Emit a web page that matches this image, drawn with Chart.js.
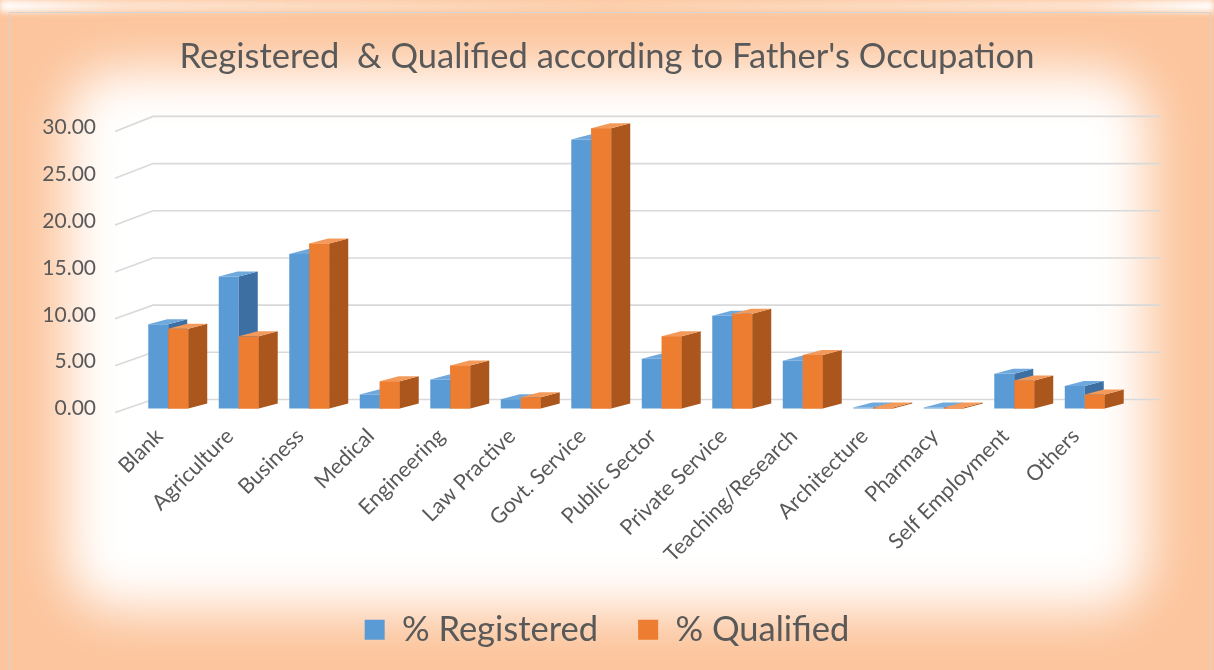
<!DOCTYPE html>
<html><head><meta charset="utf-8">
<script src="https://cdn.jsdelivr.net/npm/chart.js@4/dist/chart.umd.min.js"></script>
<style>
html,body{margin:0;padding:0;background:#fff;}
#wrap{position:relative;width:1214px;height:670px;overflow:hidden;background:#fcc59d;}
#topstrip{position:absolute;left:0;top:0;width:1214px;height:12px;background:linear-gradient(90deg,#fff 0%,#fde3cf 10%,#fcd0ad 50%,#fde3cf 90%,#fff 100%);filter:blur(3px);}
#glow{position:absolute;left:66px;top:70px;width:1082px;height:540px;background:#fff;border-radius:50px;filter:blur(26px);}
#frame{position:absolute;left:9px;top:12px;width:1202px;height:670px;border:1px solid #d4d4d4;box-sizing:border-box;}
canvas{position:absolute;left:0;top:0;}
</style></head>
<body><div id="wrap"><div id="topstrip"></div><div id="glow"></div><div id="frame"></div>
<canvas id="c" width="1214" height="670"></canvas></div>
<script>
const categories = ["Blank","Agriculture","Business","Medical","Engineering","Law Practive","Govt. Service","Public Sector","Private Service","Teaching/Research","Architecture","Pharmacy","Self Employment","Others"];
const registered = [9.0, 14.1, 16.5, 1.5, 3.1, 1.0, 28.7, 5.3, 9.9, 5.1, 0.1, 0.1, 3.7, 2.4];
const qualified  = [8.5, 7.7, 17.6, 2.9, 4.6, 1.2, 29.9, 7.7, 10.1, 5.7, 0.1, 0.1, 3.0, 1.5];
const yTicks = [0, 5, 10, 15, 20, 25, 30];

const FONT = "Lato";
const TXT = "#595959";
const DX = 19, DY = 5;

const backGrid = {
  id: 'backGrid',
  beforeDatasetsDraw(chart) {
    const ctx = chart.ctx, y = chart.scales.y, a = chart.chartArea;
    ctx.save();
    ctx.strokeStyle = '#d9d9d9';
    ctx.lineWidth = 1.6;
    yTicks.forEach(v => {
      const py = y.getPixelForValue(v);
      const back = py - 9 - v / 30 * 2;
      ctx.beginPath();
      ctx.moveTo(a.left - 18, py + 4);
      ctx.lineTo(a.left + 20, back);
      ctx.lineTo(a.right + 40, back);
      ctx.stroke();
    });
    ctx.restore();
  }
};

function sideTop(ctx, p, side, top) {
  const l = p.x - p.width / 2, r = p.x + p.width / 2;
  ctx.fillStyle = side;
  ctx.beginPath();
  ctx.moveTo(r, p.y); ctx.lineTo(r + DX, p.y - DY);
  ctx.lineTo(r + DX, p.base - DY); ctx.lineTo(r, p.base);
  ctx.closePath(); ctx.fill();
  ctx.fillStyle = top;
  ctx.beginPath();
  ctx.moveTo(l, p.y); ctx.lineTo(l + DX, p.y - DY);
  ctx.lineTo(r + DX, p.y - DY); ctx.lineTo(r, p.y);
  ctx.closePath(); ctx.fill();
}

const depth = {
  id: 'depth',
  afterDatasetsDraw(chart) {
    const ctx = chart.ctx;
    const ds = chart.data.datasets;
    ctx.save();
    chart.getDatasetMeta(0).data.forEach(el => {
      const p = el.getProps(['x','y','base','width'], true);
      sideTop(ctx, p, ds[0].sideColor, ds[0].topColor);
    });
    chart.getDatasetMeta(1).data.forEach(el => {
      const p = el.getProps(['x','y','base','width'], true);
      ctx.fillStyle = ds[1].backgroundColor;
      ctx.fillRect(p.x - p.width / 2, p.y, p.width, p.base - p.y);
      sideTop(ctx, p, ds[1].sideColor, ds[1].topColor);
    });
    ctx.restore();
  }
};

new Chart(document.getElementById('c'), {
  type: 'bar',
  data: {
    labels: categories,
    datasets: [
      { label: '% Registered', data: registered, backgroundColor: '#5b9bd5', sideColor: '#3d6fa3', topColor: '#6ea8dd', borderWidth: 0 },
      { label: '% Qualified', data: qualified, backgroundColor: '#ed7d31', sideColor: '#ab561d', topColor: '#f39a5a', borderWidth: 0 }
    ]
  },
  options: {
    responsive: false,
    animation: false,
    devicePixelRatio: 1,
    layout: { padding: { left: 0, right: 0, top: 0, bottom: 13 } },
    datasets: { bar: { categoryPercentage: 0.567, barPercentage: 1.0, clip: false } },
    scales: {
      x: {
        grid: { display: false, drawTicks: false },
        border: { display: false },
        ticks: { color: TXT, font: { family: FONT, size: 21.5 }, minRotation: 45, maxRotation: 45, autoSkip: false, padding: 15, labelOffset: -9 },
        afterFit(s) { s.height = 164; }
      },
      y: {
        min: 0, max: 30,
        grid: { display: false, drawTicks: false },
        border: { display: false },
        ticks: { stepSize: 5, color: TXT, font: { family: FONT, size: 21 }, padding: 37,
                 callback: v => v.toFixed(2) },
        afterFit(s) { s.width = 133; }
      },
      yRight: {
        position: 'right', display: true,
        grid: { display: false, drawTicks: false },
        border: { display: false },
        ticks: { display: false },
        afterFit(s) { s.width = 94; }
      }
    },
    plugins: {
      title: { display: true, text: "Registered  & Qualified according to Father's Occupation",
               color: TXT, font: { family: FONT, size: 34.5, weight: 'normal' }, padding: { top: 36, bottom: 50 } },
      legend: { position: 'bottom',
                labels: { color: TXT, font: { family: FONT, size: 34.5 }, boxWidth: 20, boxHeight: 20, padding: 40 } },
      tooltip: { enabled: false }
    }
  },
  plugins: [backGrid, depth]
});
</script></body></html>
